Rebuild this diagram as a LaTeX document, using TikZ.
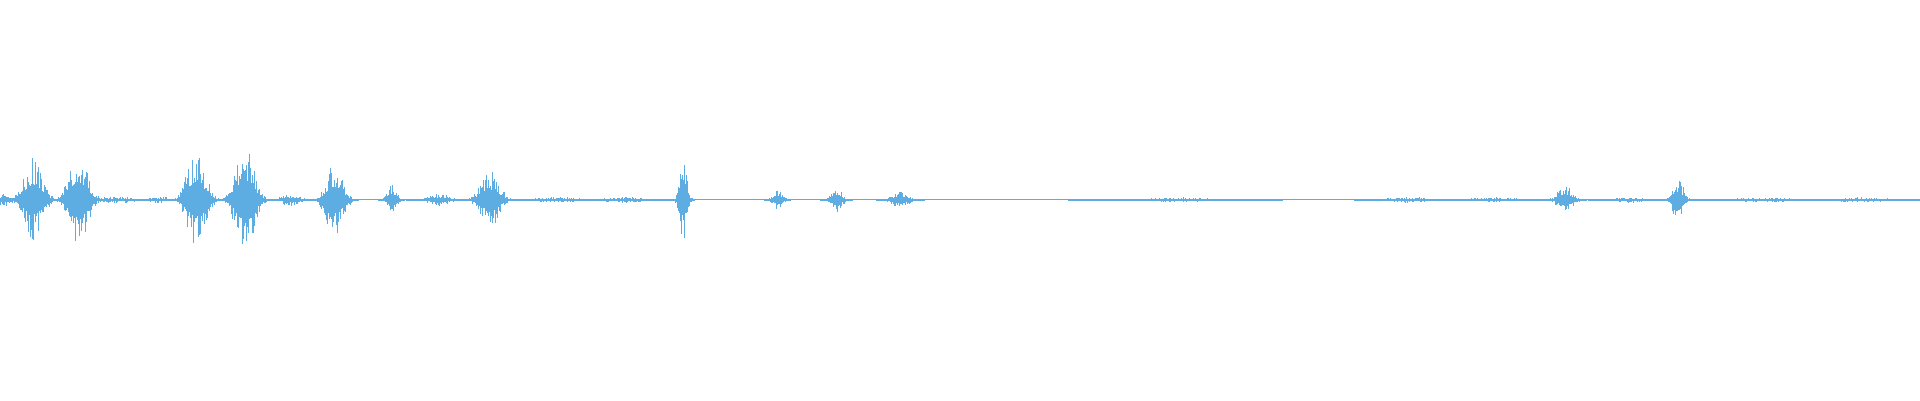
\documentclass[tikz,border=0pt]{standalone}
\definecolor{wave}{HTML}{5DADE2}
\begin{document}
\begin{tikzpicture}[x=1.2245pt,y=1.2245pt,wavestroke/.style={draw=wave,line width=0.5pt}]
\useasboundingbox (0,0) rectangle (1568,326.7);
\pgfmathsetseed{42}
\begin{scope}[shift={(0,163.5)}]
\draw[wavestroke,line width=0.8pt] (0,0) -- (1568,0);
\foreach \c/\a/\w in {4/6/7, 27/34/10, 64/40/10, 95/3/18, 130/3/10, 160/38/10, 200/46/10, 237/5/10, 273/30/9, 320/13/5, 358/5/12, 400/24/10, 455/2.5/25, 510/2.5/20, 558/35/4, 635/9/5, 683/11/6, 735/7/9, 960/2/40, 1150/2.5/20, 1220/2/30, 1278/12/8, 1330/2.5/15, 1370/18/6, 1440/2/30, 1520/2/30}{
  \pgfmathsetmacro\s{max(0,\c-2.2*\w)}
  \pgfmathsetmacro\sn{\s+0.5}
  \pgfmathsetmacro\e{min(1568,\c+2.2*\w)}
  \foreach \x in {\s,\sn,...,\e}{
    \pgfmathsetmacro\env{\a*exp(-((\x-\c)/\w)^2)}
    \pgfmathsetmacro\h{max(0.6,\env*(0.35+0.65*rnd^3))}
    \pgfmathsetmacro\g{max(0.6,\env*(0.35+0.65*rnd^3))}
    \draw[wavestroke] (\x,-\g) -- (\x,\h);
  }
}
\end{scope}
\end{tikzpicture}
\end{document}
